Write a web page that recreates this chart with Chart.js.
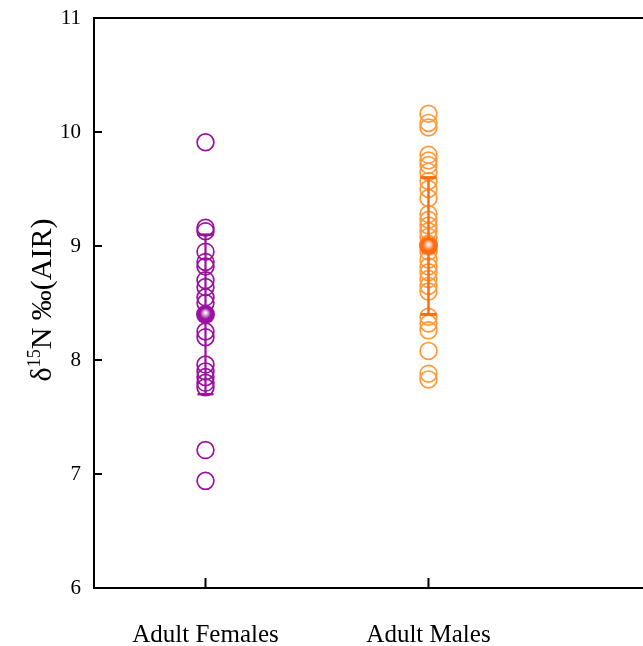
<!DOCTYPE html>
<html>
<head>
<meta charset="utf-8">
<script src="https://cdn.jsdelivr.net/npm/chart.js@4.4.1/dist/chart.umd.min.js"></script>
<style>
html,body{margin:0;padding:0;background:#fff;}
#wrap{width:643px;height:646px;}
</style>
</head>
<body>
<div id="wrap"><canvas id="c" width="643" height="646"></canvas></div>
<script>
// ---- data ----
const categories = ["Adult Females", "Adult Males"];
const categoryX = [0.5, 1.5];
const femaleValues = [9.91, 9.16, 9.13, 8.95, 8.86, 8.82, 8.70, 8.64, 8.55, 8.50, 8.25, 8.20, 7.96, 7.90, 7.85, 7.80, 7.76, 7.21, 6.94];
const maleValues = [10.16, 10.08, 10.04, 9.80, 9.75, 9.71, 9.65, 9.57, 9.50, 9.42, 9.28, 9.23, 9.18, 9.13, 9.08, 9.02, 8.95, 8.88, 8.82, 8.77, 8.71, 8.65, 8.60, 8.38, 8.32, 8.26, 8.08, 7.88, 7.83];
const means = [8.4, 9.0];
const errLow = [7.7, 8.4];
const errHigh = [9.1, 9.6];
const yTicks = [6, 7, 8, 9, 10, 11];

const FEM = '#9b10a0';
const MALE_C = '#ff9a3c';
const MALE_B = '#ff6a14';
const SERIF = "'Liberation Serif','Times New Roman',serif";

function sphere(col, r) {
  const c = document.createElement('canvas');
  c.width = c.height = 2 * r + 2;
  const g = c.getContext('2d');
  const cx = r + 1, cy = r + 1;
  const grd = g.createRadialGradient(cx, cy - r * 0.2, r * 0.05, cx, cy, r);
  grd.addColorStop(0, '#ffffff');
  grd.addColorStop(0.55, col);
  grd.addColorStop(1, col);
  g.fillStyle = grd;
  g.beginPath(); g.arc(cx, cy, r, 0, Math.PI * 2); g.fill();
  return c;
}

const datasets = [
  { type: 'scatter', data: [{x: categoryX[0], y: means[0]}], pointStyle: sphere(FEM, 9.5), pointRadius: 10 },
  { type: 'scatter', data: [{x: categoryX[1], y: means[1]}], pointStyle: sphere(MALE_B, 9.5), pointRadius: 10 },
  { type: 'line', data: [{x: categoryX[0], y: errLow[0]}, {x: categoryX[0], y: errHigh[0]}],
    borderColor: FEM, borderWidth: 2.2, pointStyle: 'line', pointRadius: 8, pointBorderWidth: 2.5, pointBorderColor: FEM, fill: false },
  { type: 'line', data: [{x: categoryX[1], y: errLow[1]}, {x: categoryX[1], y: errHigh[1]}],
    borderColor: MALE_B, borderWidth: 2.5, pointStyle: 'line', pointRadius: 8, pointBorderWidth: 3, pointBorderColor: MALE_B, fill: false },
  { type: 'scatter', data: femaleValues.map(v => ({x: categoryX[0], y: v})),
    pointStyle: 'circle', pointRadius: 8.4, borderColor: FEM, backgroundColor: 'rgba(0,0,0,0)', borderWidth: 1.7 },
  { type: 'scatter', data: maleValues.map(v => ({x: categoryX[1], y: v})),
    pointStyle: 'circle', pointRadius: 8.4, borderColor: MALE_C, backgroundColor: 'rgba(0,0,0,0)', borderWidth: 1.7 }
];

const decor = {
  id: 'decor',
  afterDraw(chart) {
    const ctx = chart.ctx, a = chart.chartArea;
    const xs = chart.scales.x, ys = chart.scales.y;
    ctx.save();
    ctx.strokeStyle = '#000';
    ctx.lineWidth = 2;
    // top frame line
    ctx.beginPath(); ctx.moveTo(a.left - 1, a.top); ctx.lineTo(a.right, a.top); ctx.stroke();
    // inward ticks
    ctx.beginPath();
    yTicks.forEach(v => { const y = ys.getPixelForValue(v); ctx.moveTo(a.left, y); ctx.lineTo(a.left + 8, y); });
    categoryX.forEach(v => { const x = xs.getPixelForValue(v); ctx.moveTo(x, a.bottom); ctx.lineTo(x, a.bottom - 10); });
    ctx.stroke();
    // y title with superscript
    const F = 30, S = 18;
    const parts = [
      {t: 'δ', f: F, dy: 0},
      {t: '15', f: S, dy: -11},
      {t: 'N ‰(AIR)', f: F, dy: 0}
    ];
    let total = 0;
    parts.forEach(p => { ctx.font = p.f + 'px ' + SERIF; p.w = ctx.measureText(p.t).width; total += p.w; });
    ctx.translate(51, 300);
    ctx.rotate(-Math.PI / 2);
    ctx.fillStyle = '#000';
    ctx.textBaseline = 'alphabetic';
    let x = -total / 2;
    parts.forEach(p => { ctx.font = p.f + 'px ' + SERIF; ctx.fillText(p.t, x, p.dy); x += p.w; });
    ctx.restore();
  }
};

new Chart(document.getElementById('c'), {
  type: 'scatter',
  data: { datasets },
  options: {
    responsive: false,
    animation: false,
    devicePixelRatio: 1,
    layout: { autoPadding: false, padding: { left: 0, right: 0, top: 18, bottom: 0 } },
    plugins: { legend: { display: false }, tooltip: { enabled: false } },
    scales: {
      x: {
        type: 'linear', min: 0, max: 2.462,
        afterBuildTicks: s => { s.ticks = categoryX.map(v => ({value: v})); },
        afterFit: s => { s.height = 58; s.paddingLeft = 0; s.paddingRight = 0; },
        grid: { display: false, drawTicks: false },
        border: { display: true, color: '#000', width: 2 },
        ticks: {
          padding: 32, color: '#000', font: { family: SERIF, size: 25 },
          callback: v => { const i = categoryX.indexOf(v); return i >= 0 ? categories[i] : ''; }
        }
      },
      y: {
        min: 6, max: 11,
        afterBuildTicks: s => { s.ticks = yTicks.map(v => ({value: v})); },
        afterFit: s => { s.width = 94; s.paddingTop = 0; s.paddingBottom = 0; },
        grid: { display: false, drawTicks: false },
        border: { display: true, color: '#000', width: 2 },
        ticks: { padding: 13, color: '#000', font: { family: SERIF, size: 21 } }
      }
    }
  },
  plugins: [decor]
});
</script>
</body>
</html>
